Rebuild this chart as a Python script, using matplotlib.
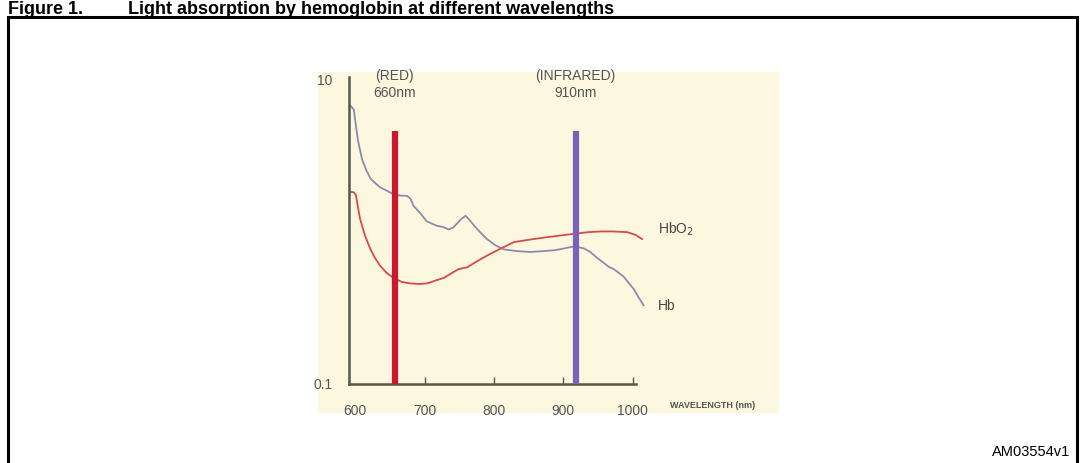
import matplotlib
matplotlib.use("Agg")
import matplotlib.pyplot as plt
import matplotlib.transforms as mtransforms
from matplotlib.patches import Rectangle
import numpy as np

plt.rcParams['font.family'] = ['Liberation Sans', 'DejaVu Sans']

# absorption curves (wavelength nm, relative absorption)
hb_wl = [593, 598, 601, 604, 610, 616, 622, 630, 636, 645, 655, 665, 675,
         680, 684, 694, 703, 710, 718, 727, 735, 741, 747, 753, 759, 765,
         771, 780, 790, 802, 814, 833, 852, 872, 888, 901, 912, 920, 930,
         939, 950, 958, 966, 973, 980, 987, 995, 1002, 1009, 1016]
hb_val = [6.8, 6.4, 5.0, 4.0, 3.0, 2.55, 2.25, 2.08, 1.97, 1.88, 1.78, 1.74,
          1.73, 1.65, 1.49, 1.33, 1.18, 1.14, 1.10, 1.08, 1.04, 1.07, 1.14,
          1.22, 1.28, 1.20, 1.11, 1.00, 0.90, 0.82, 0.77, 0.75, 0.74, 0.75,
          0.76, 0.78, 0.80, 0.80, 0.78, 0.74, 0.67, 0.63, 0.59, 0.57, 0.54,
          0.51, 0.46, 0.42, 0.37, 0.33]

hbo2_wl = [593, 598, 601, 604, 607, 614, 622, 629, 636, 645, 655, 667, 679,
           692, 704, 716, 728, 740, 749, 756, 761, 775, 790, 810, 829, 850,
           872, 896, 920, 937, 954, 972, 992, 1004, 1014]
hbo2_val = [1.84, 1.83, 1.75, 1.45, 1.22, 0.95, 0.77, 0.67, 0.60, 0.54, 0.50,
            0.47, 0.46, 0.455, 0.46, 0.48, 0.50, 0.54, 0.57, 0.58, 0.585,
            0.64, 0.70, 0.78, 0.86, 0.89, 0.92, 0.95, 0.98, 1.0, 1.01, 1.01,
            1.0, 0.96, 0.90]

bar_wl = [657, 918]
bar_top = 4.6
bar_colors = ['#C9182F', '#7B62B6']
bar_names = ['(RED)', '(INFRARED)']
bar_labels = ['660nm', '910nm']

xticks = [600, 700, 800, 900, 1000]
yticks = [0.1, 10]
ytick_labels = ['0.1', '10']

W, H = 1080, 464
fig = plt.figure(figsize=(W / 100, H / 100), dpi=100)

def px(x, y):
    return x / W, 1 - y / H

# outer frame and figure title
fig.patches.append(Rectangle(px(8, 500), (1077 - 8) / W, (500 - 18) / H,
                             transform=fig.transFigure, fill=False,
                             ec='black', lw=2.2, zorder=-2))
fig.text(*px(8, 14), 'Figure 1.', fontsize=13, fontweight='bold',
         va='baseline', ha='left')
fig.text(*px(128, 14), 'Light absorption by hemoglobin at different wavelengths',
         fontsize=13, fontweight='bold', va='baseline', ha='left')
fig.text(*px(1070, 452), 'AM03554v1', fontsize=10.5, ha='right', va='center')

# cream panel
fig.patches.append(Rectangle(px(318, 413), (778 - 318) / W, (413 - 73) / H,
                             transform=fig.transFigure, color='#FBF8DF',
                             zorder=-1))

l, b = px(349, 385)
r, t = px(636, 78)
ax = fig.add_axes([l, b, r - l, t - b])
ax.set_zorder(1)
ax.set_facecolor('none')
ax.set_yscale('log')
ax.set_xlim(591, 1005)
ax.set_ylim(0.1, 10.5)

for s in ['top', 'right']:
    ax.spines[s].set_visible(False)
for s in ['left', 'bottom']:
    ax.spines[s].set_color('#55584a')
    ax.spines[s].set_linewidth(1.8)

ax.set_xticks(xticks)
ax.set_xticklabels([str(v) for v in xticks])
ax.tick_params(axis='x', direction='in', length=5, width=1, color='#55584a',
               pad=14, labelsize=10, labelcolor='#555555')
ax.xaxis.get_major_ticks()[0].tick1line.set_visible(False)
ax.set_yticks(yticks)
ax.set_yticklabels(ytick_labels)
ax.yaxis.set_minor_locator(matplotlib.ticker.NullLocator())
ax.tick_params(axis='y', length=0, pad=12, labelsize=10, labelcolor='#555555')
for lab in ax.get_yticklabels():
    lab.set_verticalalignment('center')

# wavelength bars
trans = mtransforms.blended_transform_factory(ax.transData, ax.transAxes)
for wl, c, nm, lab in zip(bar_wl, bar_colors, bar_names, bar_labels):
    ax.vlines(wl, 0.1, bar_top, color=c, lw=4.5, zorder=3)
    ax.text(wl, 1.005, nm, transform=trans, ha='center', va='center',
            fontsize=10, color='#555555', clip_on=False)
    ax.text(wl, 0.95, lab, transform=trans, ha='center', va='center',
            fontsize=10, color='#555555', clip_on=False)

ax.plot(hb_wl, hb_val, color='#8C8AAE', lw=1.3, zorder=2, clip_on=False)
ax.plot(hbo2_wl, hbo2_val, color='#D9484D', lw=1.3, zorder=2, clip_on=False)

ax.annotate('HbO$_2$', (hbo2_wl[-1], hbo2_val[-1]), xytext=(11, 8),
            textcoords='offset points', fontsize=10, color='#444444',
            va='center', ha='left', annotation_clip=False)
ax.annotate('Hb', (hb_wl[-1], hb_val[-1]), xytext=(10, 0),
            textcoords='offset points', fontsize=10, color='#444444',
            va='center', ha='left', annotation_clip=False)

fig.text(*px(670, 406), 'WAVELENGTH (nm)', fontsize=6.5, fontweight='bold',
         color='#555555', ha='left', va='center')

fig.savefig('out.png', dpi=100)
